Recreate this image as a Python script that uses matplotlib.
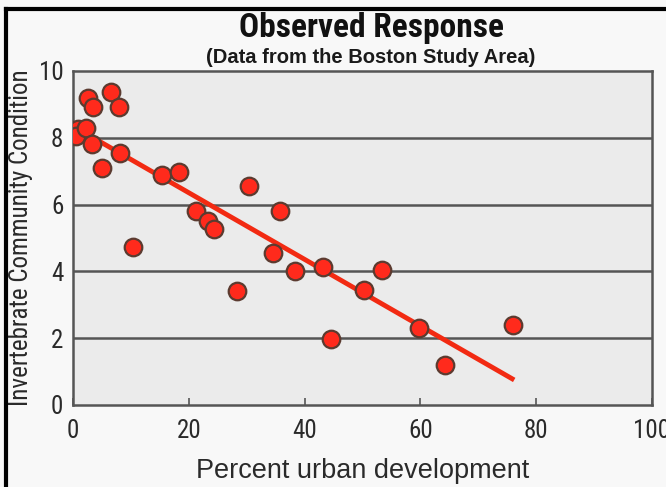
import matplotlib
matplotlib.use("Agg")
import matplotlib.pyplot as plt
from matplotlib.lines import Line2D

urban_pct = [0.9, 0.5, 2.2, 2.6, 3.4, 3.3, 6.6, 7.9, 8.1, 5.0, 10.3, 15.3, 18.3,
             21.2, 23.4, 24.3, 30.4, 28.4, 35.7, 34.5, 38.4, 43.1, 44.5, 50.2,
             53.4, 59.7, 64.3, 76.0]
condition = [8.27, 8.06, 8.3, 9.2, 8.93, 7.8, 9.38, 8.93, 7.55, 7.1, 4.72, 6.9,
             6.98, 5.8, 5.5, 5.28, 6.56, 3.4, 5.8, 4.54, 4.0, 4.12, 1.98, 3.43,
             4.03, 2.3, 1.2, 2.4]
fit_x = [0.5, 76.2]
fit_y = [8.3, 0.75]
x_ticks = [0, 20, 40, 60, 80, 100]
y_ticks = [0, 2, 4, 6, 8, 10]

narrow = ['Roboto Condensed', 'Archivo Narrow', 'Liberation Sans', 'DejaVu Sans']
plain = ['Liberation Sans', 'DejaVu Sans']

W, H = 666, 487
fig = plt.figure(figsize=(W / 100, H / 100), dpi=100)
fig.patch.set_facecolor('#f8f8f8')
ax = fig.add_axes([73 / W, 1 - 405 / H, (652 - 73) / W, (405 - 71) / H])
ax.set_facecolor('#ebebeb')

for yv in y_ticks[1:-1]:
    ax.axhline(yv, color='#555555', lw=1.8, zorder=1)

ax.plot(fit_x, fit_y, color='#f22a12', lw=3.5, solid_capstyle='butt', zorder=2)
ax.scatter(urban_pct, condition, s=160, color='#ff2a1c', edgecolor='#5b3b30',
           linewidth=1.6, zorder=3)

ax.set_xlim(0, 100)
ax.set_ylim(0, 10)
ax.set_xticks(x_ticks)
ax.set_yticks(y_ticks)
ax.tick_params(axis='x', direction='in', length=5, width=1.2, color='#555555',
               labelsize=18, pad=10)
ax.tick_params(axis='y', length=0, labelsize=18, pad=7)
for lab in ax.get_xticklabels() + ax.get_yticklabels():
    lab.set_family(narrow)
    lab.set_color('#2a2a2a')
for s in ax.spines.values():
    s.set_color('#555555')
    s.set_linewidth(1.8)

ax.set_xlabel('Percent urban development', family=plain, fontsize=19.5,
              color='#2a2a2a', labelpad=11)
ax.set_ylabel('Invertebrate Community Condition', family=narrow, fontsize=18,
              color='#2a2a2a', labelpad=4)

fig.text(371 / W, 1 - 37 / H, 'Observed Response', ha='center', va='baseline',
         family=narrow, weight='bold', fontsize=24, color='#111111')
fig.text(371 / W, 1 - 63 / H, '(Data from the Boston Study Area)', ha='center',
         va='baseline', family=plain, weight='bold', fontsize=14.5, color='#1a1a1a')

# outer black border (left and top)
fig.add_artist(Line2D([6 / W, 6 / W], [0, 1 - 9 / H], color='black', lw=3,
                      transform=fig.transFigure))
fig.add_artist(Line2D([6 / W, 1], [1 - 9 / H, 1 - 9 / H], color='black', lw=3,
                      transform=fig.transFigure))

fig.savefig('out.png', dpi=100, facecolor=fig.get_facecolor())
